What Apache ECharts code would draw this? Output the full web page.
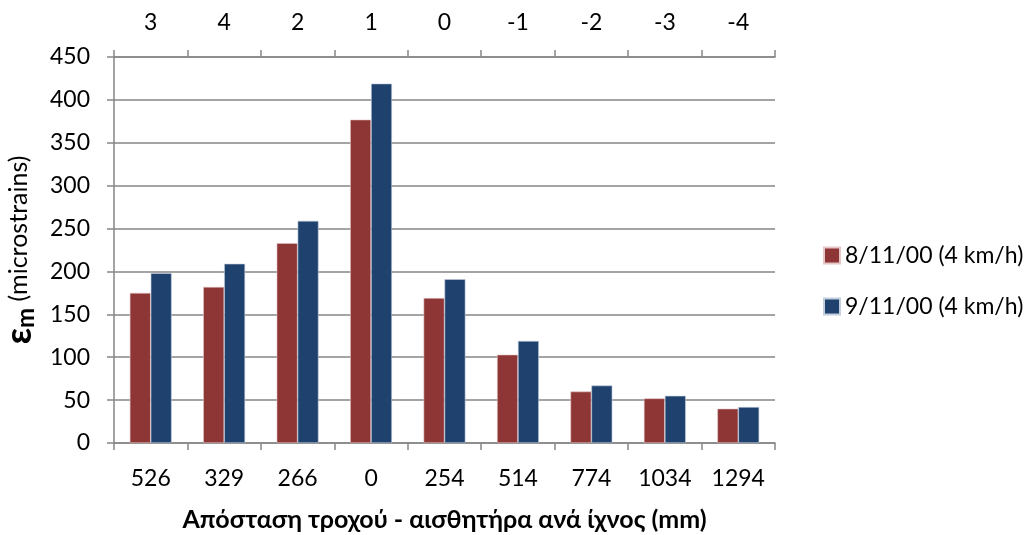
<!DOCTYPE html>
<html>
<head>
<meta charset="utf-8">
<script src="https://cdn.jsdelivr.net/npm/echarts@6/dist/echarts.min.js"></script>
<style>
html,body{margin:0;padding:0;background:#fff;}
#chart{width:1033px;height:535px;}
</style>
</head>
<body>
<div id="chart"></div>
<script>
const distances = ['526','329','266','0','254','514','774','1034','1294'];
const sensorLabels = ['3','4','2','1','0','-1','-2','-3','-4'];
const series1Name = '8/11/00 (4 km/h)';
const series2Name = '9/11/00 (4 km/h)';
const series1 = [175, 182, 233, 377, 169, 103, 60, 52, 40];
const series2 = [198, 209, 259, 419, 191, 119, 67, 55, 42];
const yTicks = {min: 0, max: 450, interval: 50};

const FONT = 'Lato, "Open Sans", "Noto Sans", sans-serif';
const GRAY = '#868686';
const chart = echarts.init(document.getElementById('chart'));
chart.setOption({
  animation: false,
  textStyle: {fontFamily: FONT, color: '#000'},
  grid: {left: 114, right: 258, top: 57, bottom: 92, containLabel: false, outerBoundsMode: 'none'},
  legend: {
    orient: 'vertical', left: 818, top: 239,
    itemWidth: 16, itemHeight: 16, itemGap: 28, icon: 'rect',
    textStyle: {fontSize: 23, fontFamily: FONT, color: '#000'},
    data: [series1Name, series2Name]
  },
  xAxis: [
    {
      type: 'category', position: 'bottom', data: distances,
      axisLine: {lineStyle: {color: GRAY, width: 1.5}},
      axisTick: {show: true, length: 7, lineStyle: {color: GRAY, width: 1.5}},
      axisLabel: {fontSize: 23, color: '#000', margin: 24, fontFamily: FONT},
      name: 'Απόσταση τροχού - αισθητήρα ανά ίχνος (mm)',
      nameLocation: 'middle', nameGap: 64,
      nameTextStyle: {fontSize: 25, fontWeight: 'bold', color: '#000', fontFamily: FONT}
    },
    {
      type: 'category', position: 'top', data: sensorLabels,
      axisLine: {lineStyle: {color: GRAY, width: 1.5}},
      axisTick: {show: true, length: 7, lineStyle: {color: GRAY, width: 1.5}},
      axisLabel: {fontSize: 23, color: '#000', margin: 23, fontFamily: FONT}
    }
  ],
  yAxis: {
    type: 'value', min: yTicks.min, max: yTicks.max, interval: yTicks.interval,
    axisLine: {show: true, lineStyle: {color: GRAY, width: 1.5}},
    axisTick: {show: true, length: 7, lineStyle: {color: GRAY, width: 1.5}},
    axisLabel: {fontSize: 23, color: '#000', margin: 24, fontFamily: FONT},
    splitLine: {lineStyle: {color: GRAY, width: 1.5}},
    name: '{e|ε}{m|m}{n| (microstrains)}',
    nameLocation: 'middle', nameGap: 76, nameRotate: 90,
    nameTextStyle: {
      rich: {
        e: {fontSize: 36, fontWeight: 'bold', fontFamily: FONT, color: '#000', lineHeight: 34},
        m: {fontSize: 24, fontWeight: 'bold', fontFamily: FONT, color: '#000', padding: [14,0,0,0]},
        n: {fontSize: 25, fontFamily: FONT, color: '#000'}
      }
    }
  },
  series: [
    {name: series1Name, type: 'bar', data: series1, barGap: '0%', barCategoryGap: '43%',
     itemStyle: {color: '#8E3535', borderColor: '#E6C6C6', borderWidth: 0.6}},
    {name: series2Name, type: 'bar', data: series2, barGap: '0%', barCategoryGap: '43%',
     itemStyle: {color: '#1F416E', borderColor: '#C3CEDD', borderWidth: 0.6}}
  ]
});
</script>
</body>
</html>
